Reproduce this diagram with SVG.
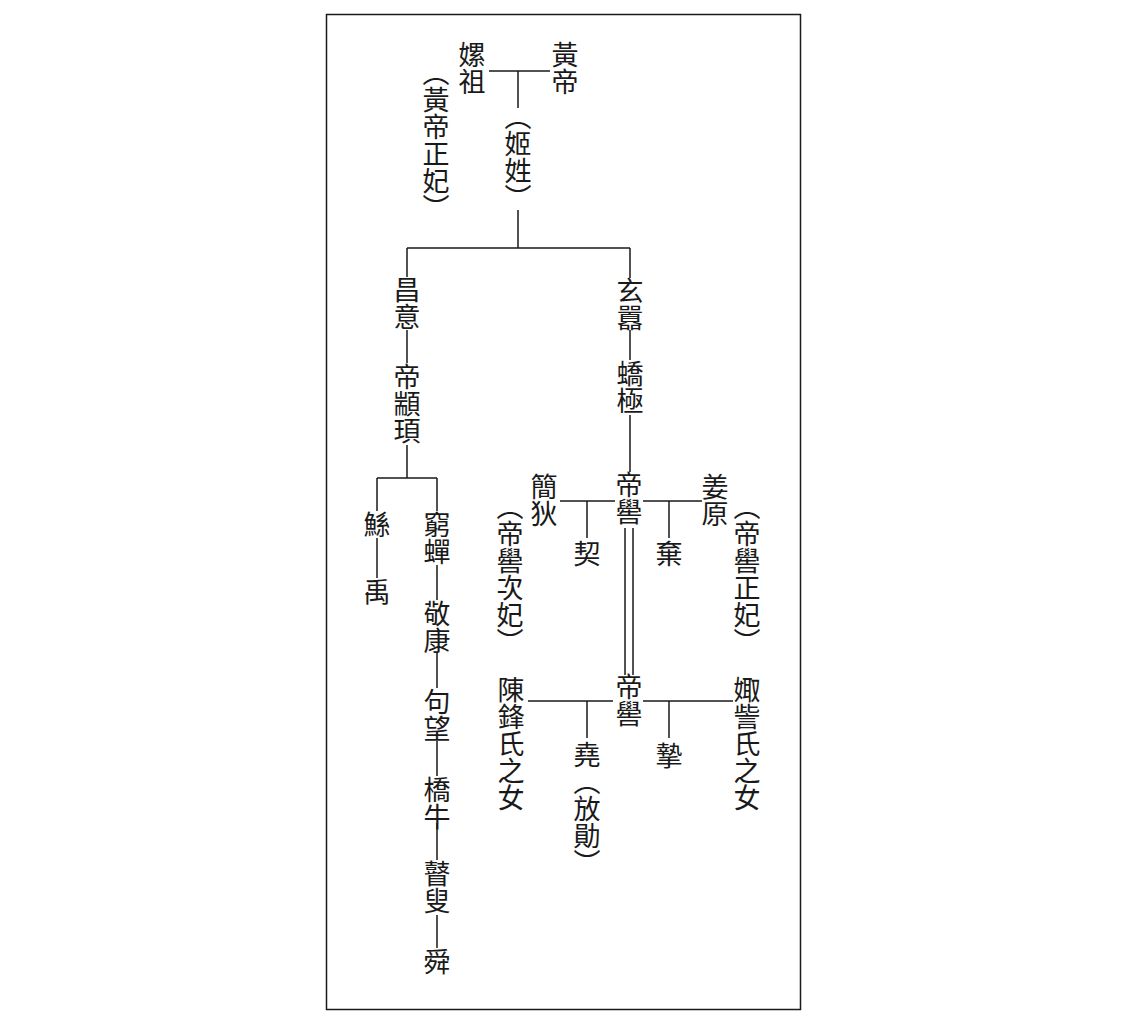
<svg xmlns="http://www.w3.org/2000/svg" width="1129" height="1024" viewBox="0 0 1129 1024">
<style>
.t{font-family:"Noto Sans CJK TC","Noto Sans CJK SC",sans-serif;font-size:27px;fill:#1a1a1a;writing-mode:vertical-rl;}
.l{stroke:#1a1a1a;stroke-width:1.5;fill:none;}
</style>
<rect x="0" y="0" width="1129" height="1024" fill="#fff"/>
<rect x="326.5" y="14.5" width="474" height="995" fill="none" stroke="#1a1a1a" stroke-width="1.5"/>
<g id="connectors" class="l">
<path d="M489 71H550M518 71V108"/>
<path d="M518 210V248M407 248H630M407 248V277M630 248V278"/>
<path d="M407 330V363M407 445V478M377 478H437M377 478V511M437 478V511"/>
<path d="M377 538V578"/>
<path d="M437 565V600M437 653V688M437 741V776M437 823V860M437 915V948"/>
<path d="M630 330V360M630 415V472"/>
<path d="M560 501H615M643 501H702M587 501V538M669 501V538"/>
<path d="M625 528V675M633 528V675"/>
<path d="M528 701H613M643 701H733M587 701V738M669 701V738"/>
</g>
<g id="n-huangdi"><text class="t" x="565" y="41">黃帝</text></g>
<g id="n-leizu"><text class="t" x="472" y="41">嫘祖</text></g>
<g id="n-leizu-note"><text class="t" x="436" y="59">（黃帝正妃）</text></g>
<g id="n-jixing"><text class="t" x="518" y="103">（姬姓）</text></g>
<g id="n-changyi"><text class="t" x="407" y="276">昌意</text></g>
<g id="n-zhuanxu"><text class="t" x="407" y="363">帝顓頊</text></g>
<g id="n-gun"><text class="t" x="377" y="511">鯀</text></g>
<g id="n-yu"><text class="t" x="377" y="578">禹</text></g>
<g id="n-qiongchan"><text class="t" x="437" y="511">窮蟬</text></g>
<g id="n-jingkang"><text class="t" x="437" y="600">敬康</text></g>
<g id="n-juwang"><text class="t" x="437" y="688">句望</text></g>
<g id="n-qiaoniu"><text class="t" x="437" y="776">橋牛</text></g>
<g id="n-gusou"><text class="t" x="437" y="860">瞽叟</text></g>
<g id="n-shun"><text class="t" x="437" y="948">舜</text></g>
<g id="n-xuanxiao"><text class="t" x="630" y="277">玄囂</text></g>
<g id="n-jiaoji"><text class="t" x="630" y="360">蟜極</text></g>
<g id="n-diku1"><text class="t" x="629" y="471">帝嚳</text></g>
<g id="n-jiandi"><text class="t" x="544" y="473">簡狄</text></g>
<g id="n-jiandi-note"><text class="t" x="510" y="493">（帝嚳次妃）</text></g>
<g id="n-jiangyuan"><text class="t" x="715" y="473">姜原</text></g>
<g id="n-jiangyuan-note"><text class="t" x="747" y="493">（帝嚳正妃）</text></g>
<g id="n-qi"><text class="t" x="587" y="540">契</text></g>
<g id="n-qi2"><text class="t" x="669" y="540">棄</text></g>
<g id="n-diku2"><text class="t" x="629" y="673">帝嚳</text></g>
<g id="n-chenfeng"><text class="t" x="511" y="676">陳鋒氏之女</text></g>
<g id="n-juzi"><text class="t" x="747" y="676">娵訾氏之女</text></g>
<g id="n-yao"><text class="t" x="587" y="741">堯（放勛）</text></g>
<g id="n-zhi"><text class="t" x="669" y="742">摯</text></g>
</svg>
